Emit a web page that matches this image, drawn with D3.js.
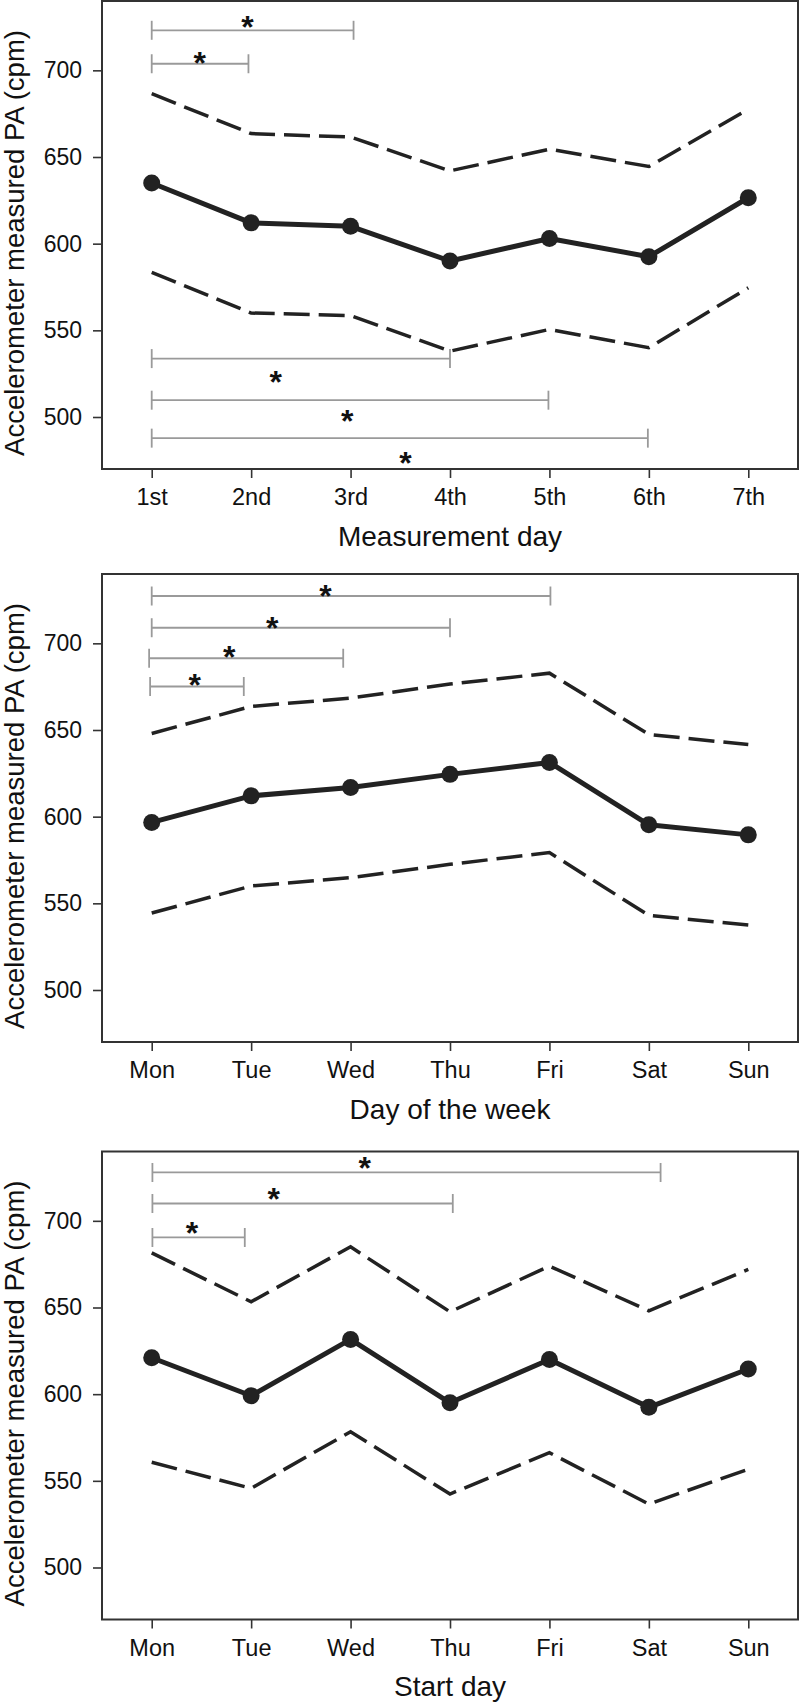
<!DOCTYPE html>
<html>
<head>
<meta charset="utf-8">
<script src="https://cdn.jsdelivr.net/npm/d3@7"></script>
<style>
  html, body { margin: 0; padding: 0; background: #fff; }
  svg { display: block; }
  text { font-family: "Liberation Sans", Arial, Helvetica, sans-serif; fill: #111; }
</style>
</head>
<body>
<svg id="chart" width="800" height="1702"></svg>
<script>
// ---------- data ----------
const measurementDays = ["1st", "2nd", "3rd", "4th", "5th", "6th", "7th"];
const weekDays = ["Mon", "Tue", "Wed", "Thu", "Fri", "Sat", "Sun"];
const yTicks = [500, 550, 600, 650, 700];
const xTitles = ["Measurement day", "Day of the week", "Start day"];
const yTitle = "Accelerometer measured PA (cpm)";

// Panel 1: measurement day
const p1Mean  = [635, 612, 610, 590, 603, 592.5, 626.5];
const p1Upper = [686.5, 663.5, 661.5, 642, 654.5, 644.5, 677.5];
const p1Lower = [583.5, 560, 558.5, 538, 550.5, 540, 574.5];
// Panel 2: day of the week
const p2Mean  = [596.7, 612, 616.8, 624.4, 631.3, 595.3, 589.5];
const p2Upper = [648, 663.6, 668.4, 676.5, 682.8, 647.4, 641.6];
const p2Lower = [544.4, 560, 564.8, 572.5, 579.3, 543, 537.5];
// Panel 3: start day
const p3Mean  = [621, 599.1, 631.6, 595, 620, 592.4, 614.5];
const p3Upper = [681.5, 653.3, 685, 647.5, 673.9, 648.1, 672];
const p3Lower = [560.7, 545.7, 578.3, 542.4, 566.2, 536.6, 556.7];

// significance brackets: [from, to, y value, star x, star y value]
const p1Brackets = [
  [1, 3.03, 723.1, 1.963, 728],
  [1, 1.973, 703.8, 1.483, 707.3],
  [1, 4.0, 533.7, 2.247, 523.1],
  [1, 4.99, 509.7, 2.966, 500.6],
  [1, 5.99, 487.8, 3.552, 476.4]
];
const p2Brackets = [
  [1, 5.01, 727.3, 2.748, 730.2],
  [1, 4.0, 709, 2.211, 711.8],
  [0.974, 2.926, 691.4, 1.779, 695.2],
  [0.984, 1.926, 675.1, 1.433, 678.9]
];
const p3Brackets = [
  [1.007, 6.118, 727.9, 3.143, 733.1],
  [1.007, 4.028, 710, 2.227, 715.2],
  [1.007, 1.936, 690.4, 1.406, 695.6]
];

// ---------- layout ----------
const panels = [
  { top: 1,      labels: measurementDays, mean: p1Mean, upper: p1Upper, lower: p1Lower, brackets: p1Brackets, title: xTitles[0] },
  { top: 574,    labels: weekDays,        mean: p2Mean, upper: p2Upper, lower: p2Lower, brackets: p2Brackets, title: xTitles[1] },
  { top: 1151.5, labels: weekDays,        mean: p3Mean, upper: p3Upper, lower: p3Lower, brackets: p3Brackets, title: xTitles[2] }
];
const left = 102, right = 798, plotH = 468;
const starSize = 32;

const svg = d3.select("#chart");
const x = d3.scaleLinear().domain([0.5, 7.5]).range([left, right]);

panels.forEach(p => {
  const y = d3.scaleLinear().domain([470, 740]).range([p.top + plotH, p.top]);
  const g = svg.append("g");

  // y axis
  const ya = g.append("g")
    .attr("transform", `translate(${left},0)`)
    .call(d3.axisLeft(y).tickValues(yTicks).tickSize(9).tickPadding(11).tickFormat(d3.format("d")));
  ya.select(".domain").remove();
  ya.selectAll("line").attr("stroke", "#333").attr("stroke-width", 1.6);
  ya.selectAll("text").style("font-size", "23px").attr("fill", "#111");

  // x axis
  const xa = g.append("g")
    .attr("transform", `translate(0,${p.top + plotH})`)
    .call(d3.axisBottom(x).tickValues(d3.range(1, 8)).tickSize(9).tickPadding(10.5)
      .tickFormat(i => p.labels[i - 1]));
  xa.select(".domain").remove();
  xa.selectAll("line").attr("stroke", "#333").attr("stroke-width", 1.6);
  xa.selectAll("text").style("font-size", "23.5px").attr("fill", "#111");

  // frame
  g.append("rect")
    .attr("x", left).attr("y", p.top)
    .attr("width", right - left).attr("height", plotH)
    .attr("fill", "none").attr("stroke", "#333").attr("stroke-width", 2);

  // titles
  g.append("text")
    .attr("x", (left + right) / 2)
    .attr("y", p.top + plotH + 76.5)
    .attr("text-anchor", "middle")
    .style("font-size", "28px")
    .text(p.title);
  g.append("text")
    .attr("transform", "rotate(-90)")
    .attr("x", -(p.top + plotH / 2 + 8))
    .attr("y", 23.5)
    .attr("text-anchor", "middle")
    .style("font-size", "27.5px")
    .text(yTitle);

  // brackets
  const bg = g.append("g");
  p.brackets.forEach(b => {
    const [from, to, yv, sx, sy] = b;
    const yy = y(yv);
    bg.append("line").attr("x1", x(from)).attr("x2", x(to)).attr("y1", yy).attr("y2", yy)
      .attr("stroke", "#9a9a9a").attr("stroke-width", 1.8);
    [from, to].forEach(e => {
      bg.append("line").attr("x1", x(e)).attr("x2", x(e)).attr("y1", yy - 9.5).attr("y2", yy + 9.5)
        .attr("stroke", "#9a9a9a").attr("stroke-width", 1.8);
    });
    bg.append("text")
      .attr("x", x(sx))
      .attr("y", y(sy) + 0.5 * starSize)
      .attr("text-anchor", "middle")
      .style("font-size", starSize + "px")
      .style("font-weight", "bold")
      .text("*");
  });

  // lines
  const line = d3.line().x((d, i) => x(i + 1)).y(d => y(d));
  [p.upper, p.lower].forEach(arr => {
    g.append("path").datum(arr).attr("d", line)
      .attr("fill", "none").attr("stroke", "#222").attr("stroke-width", 3.5)
      .attr("stroke-dasharray", "26,9");
  });
  g.append("path").datum(p.mean).attr("d", line)
    .attr("fill", "none").attr("stroke", "#222").attr("stroke-width", 5)
    .attr("stroke-linejoin", "round");
  g.selectAll("circle.m").data(p.mean).join("circle")
    .attr("class", "m")
    .attr("cx", (d, i) => x(i + 1)).attr("cy", d => y(d)).attr("r", 8.5)
    .attr("fill", "#222");
});
</script>
</body>
</html>
